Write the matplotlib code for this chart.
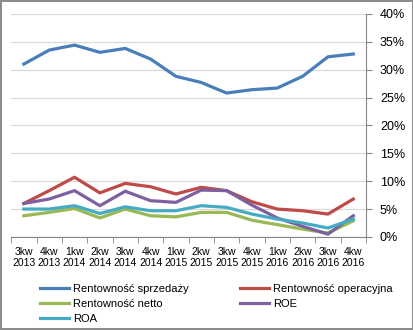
import numpy as np
import matplotlib.pyplot as plt
from matplotlib.ticker import FixedLocator, PercentFormatter

plt.rcParams['font.family'] = ['Liberation Sans', 'DejaVu Sans']

quarters = ['3kw\n2013', '4kw\n2013', '1kw\n2014', '2kw\n2014', '3kw\n2014', '4kw\n2014', '1kw\n2015',
            '2kw\n2015', '3kw\n2015', '4kw\n2015', '1kw\n2016', '2kw\n2016', '3kw\n2016', '4kw\n2016']

sprzedazy = [31.0, 33.5, 34.4, 33.1, 33.8, 31.9, 28.8, 27.7, 25.8, 26.4, 26.7, 28.8, 32.3, 32.8]
operacyjna = [6.0, 8.3, 10.7, 7.9, 9.6, 9.0, 7.7, 8.9, 8.3, 6.3, 5.0, 4.7, 4.1, 6.8]
netto = [3.8, 4.4, 5.1, 3.4, 5.0, 3.8, 3.6, 4.4, 4.4, 3.0, 2.2, 1.4, 0.7, 2.9]
roe = [6.0, 6.8, 8.3, 5.6, 8.2, 6.5, 6.2, 8.4, 8.3, 5.7, 3.4, 1.9, 0.5, 3.8]
roa = [5.0, 5.0, 5.6, 4.2, 5.4, 4.7, 4.7, 5.6, 5.3, 4.1, 3.2, 2.5, 1.6, 3.2]

series = [
    ('Rentowność sprzedaży', sprzedazy, '#4A7EBB'),
    ('Rentowność operacyjna', operacyjna, '#BE4B48'),
    ('Rentowność netto', netto, '#98B954'),
    ('ROE', roe, '#7D60A0'),
    ('ROA', roa, '#46AAC5'),
]

fig = plt.figure(figsize=(4.14, 3.30), dpi=100, linewidth=1.5, edgecolor='#8c8c8c')
ax = fig.add_axes([0.027, 0.282, 0.857, 0.676])

x = np.arange(len(quarters))
lines = {}
for name, vals, col in series:
    lines[name], = ax.plot(x, vals, color=col, lw=2.3, label=name, solid_joinstyle='round')

ax.set_xlim(-0.5, len(quarters) - 0.5)
ax.set_ylim(0, 40)
ax.yaxis.tick_right()
ax.set_yticks(np.arange(0, 41, 5))
ax.yaxis.set_major_formatter(PercentFormatter(decimals=0))
ax.grid(axis='y', color='#d9d9d9', lw=0.9)
ax.set_axisbelow(True)

ax.set_xticks(x)
ax.set_xticklabels(quarters, fontsize=7.5, linespacing=1.2)
ax.xaxis.set_minor_locator(FixedLocator(np.arange(-0.5, len(quarters), 1)))
ax.tick_params(axis='x', which='major', length=0, pad=7)
ax.tick_params(axis='x', which='minor', length=4, color='#868686')
ax.tick_params(axis='y', length=4, color='#868686', labelsize=9, pad=6)

for s in ['left', 'top']:
    ax.spines[s].set_visible(False)
ax.spines['right'].set_color('#868686')
ax.spines['bottom'].set_color('#868686')

leg_kw = dict(loc='upper left', frameon=False, fontsize=8, handlelength=2.6,
              handletextpad=0.35, labelspacing=0.45, borderpad=0, borderaxespad=0)
col1 = ['Rentowność sprzedaży', 'Rentowność netto', 'ROA']
col2 = ['Rentowność operacyjna', 'ROE']
fig.legend([lines[n] for n in col1], col1, bbox_to_anchor=(40 / 414, 1 - 284 / 330), **leg_kw)
fig.legend([lines[n] for n in col2], col2, bbox_to_anchor=(240 / 414, 1 - 284 / 330), **leg_kw)

fig.savefig('out.png', dpi=100)
